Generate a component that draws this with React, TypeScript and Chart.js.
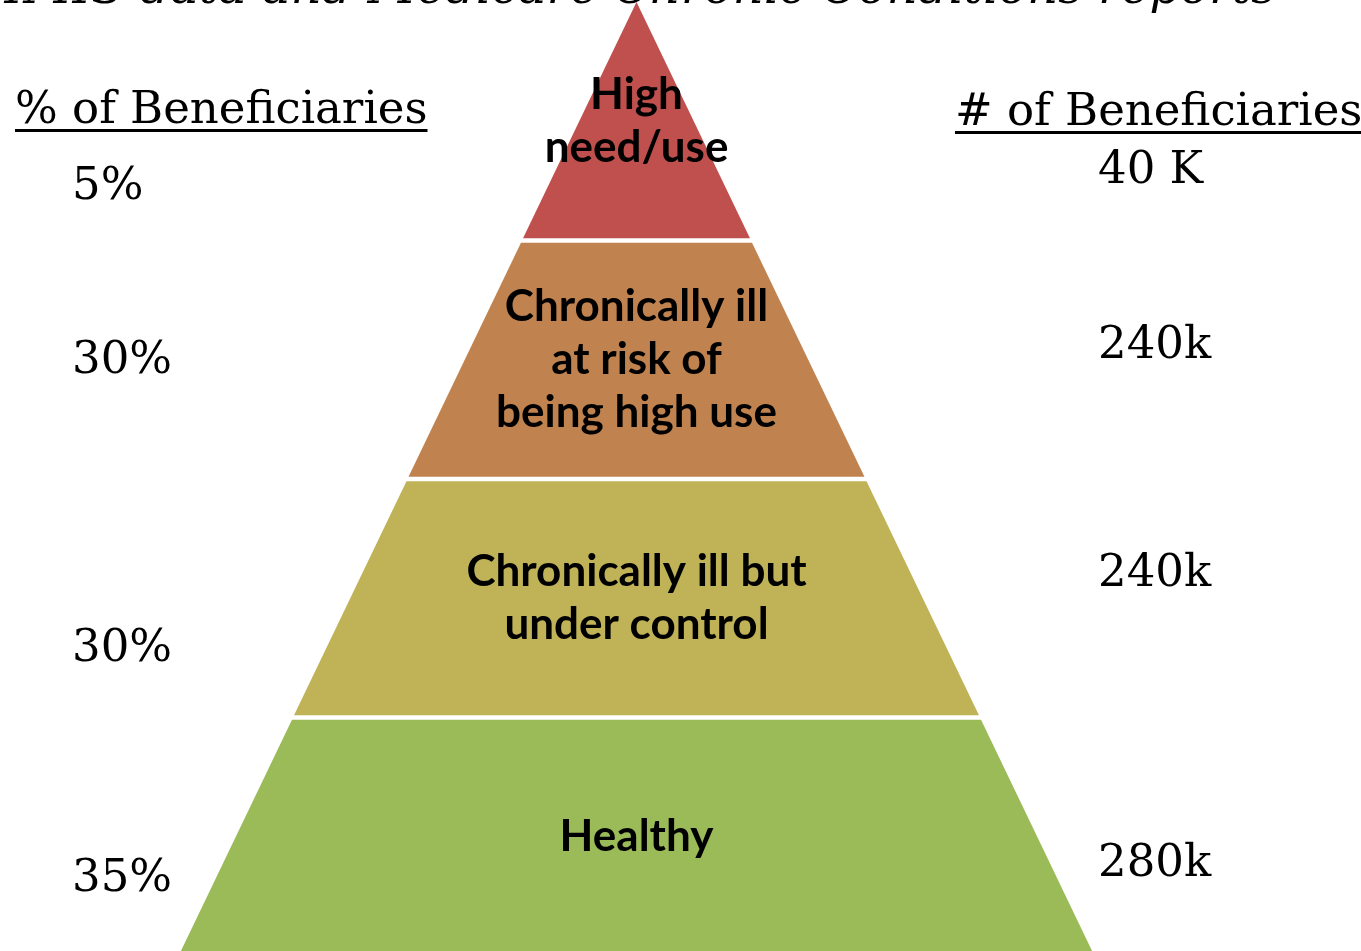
import React, { useEffect, useRef } from "react";
import { Chart, registerables } from "chart.js";

Chart.register(...registerables);

// ---------- data ----------
const tierNames = [
  "High need/use",
  "Chronically ill at risk of being high use",
  "Chronically ill but under control",
  "Healthy",
];
const tierLines = [
  ["High", "need/use"],
  ["Chronically ill", "at risk of", "being high use"],
  ["Chronically ill but", "under control"],
  ["Healthy"],
];
const tierColors = ["#C0504D", "#C0834F", "#BFB257", "#9BBB59"];
const pctLabels = ["5%", "30%", "30%", "35%"];
const countLabels = ["40 K", "240k", "240k", "280k"];
const leftHeader = "% of Beneficiaries";
const rightHeader = "# of Beneficiaries";
const sourceText = "Sources: MMIS data and Medicare Chronic Conditions reports";

// ---------- layout (pixels / styling only) ----------
const W = 1361;
const H = 951;
const GAP = 0.009; // half gap between tiers, in level units
const X_MIN = -636.5 / 114.5;
const X_MAX = (W - 636.5) / 114.5;
const Y_MIN = -2 / 238.5;
const Y_MAX = (H - 2) / 238.5;
const SERIF = '"DejaVu Serif", serif';
const TIER_FONT = 'bold 44px Lato, "Open Sans", sans-serif';
const TIER_LINE_H = 53;
const LEFT_X = 72;
const RIGHT_X = 1098;
const LEFT_BASE = [199, 373, 661, 891];
const RIGHT_BASE = [183, 358, 586, 876];

function tierPolygon(i: number) {
  const top = i + (i === 0 ? 0 : GAP);
  const bot = i + 1 - GAP;
  const pts = [
    { x: -top, y: top },
    { x: top, y: top },
    { x: bot, y: bot },
    { x: -bot, y: bot },
    { x: -top, y: top },
  ];
  return pts;
}

const textPlugin = {
  id: "pyramidText",
  afterDraw(chart: any) {
    const ctx: CanvasRenderingContext2D = chart.ctx;
    const xs = chart.scales.x;
    const ys = chart.scales.y;
    ctx.save();
    ctx.fillStyle = "#000";
    ctx.strokeStyle = "#000";

    // tier labels
    ctx.font = TIER_FONT;
    ctx.textAlign = "center";
    ctx.textBaseline = "middle";
    const cx = xs.getPixelForValue(0);
    tierLines.forEach((lines, i) => {
      const cy = ys.getPixelForValue(i + 0.5);
      const start = cy - ((lines.length - 1) * TIER_LINE_H) / 2;
      lines.forEach((ln, j) => ctx.fillText(ln, cx, start + j * TIER_LINE_H));
    });

    // source (cut off at top)
    ctx.textBaseline = "alphabetic";
    ctx.textAlign = "right";
    ctx.font = `italic 48px ${SERIF}`;
    ctx.fillText(sourceText, 1276, 3);

    // headers
    ctx.font = `45px ${SERIF}`;
    ctx.textAlign = "left";
    ctx.fillText(leftHeader, 15, 123);
    let w = ctx.measureText(leftHeader).width;
    ctx.fillRect(15, 129, w, 3);
    ctx.fillText(rightHeader, 955, 125);
    w = ctx.measureText(rightHeader).width;
    ctx.fillRect(955, 131, w, 3);

    // values
    pctLabels.forEach((t, i) => ctx.fillText(t, LEFT_X, LEFT_BASE[i]));
    countLabels.forEach((t, i) => ctx.fillText(t, RIGHT_X, RIGHT_BASE[i]));
    ctx.restore();
  },
};

export default function App() {
  const ref = useRef<HTMLCanvasElement | null>(null);
  useEffect(() => {
    if (!ref.current) return;
    const chart = new Chart(ref.current, {
      type: "scatter",
      data: {
        datasets: tierNames.map((name, i) => ({
          label: name,
          data: tierPolygon(i),
          showLine: true,
          fill: "shape",
          backgroundColor: tierColors[i],
          borderWidth: 0,
          borderColor: tierColors[i],
          pointRadius: 0,
          tension: 0,
        })),
      },
      options: {
        animation: false,
        responsive: false,
        events: [],
        layout: { padding: 0 },
        plugins: {
          legend: { display: false },
          tooltip: { enabled: false },
          title: { display: false },
        },
        scales: {
          x: { type: "linear", min: X_MIN, max: X_MAX, display: false },
          y: { type: "linear", min: Y_MIN, max: Y_MAX, reverse: true, display: false },
        },
      },
      plugins: [textPlugin],
    });
    return () => chart.destroy();
  }, []);
  return (
    <div style={{ position: "absolute", left: 0, top: 0, width: W, height: H, background: "#fff" }}>
      <canvas ref={ref} width={W} height={H} style={{ display: "block" }} />
    </div>
  );
}
